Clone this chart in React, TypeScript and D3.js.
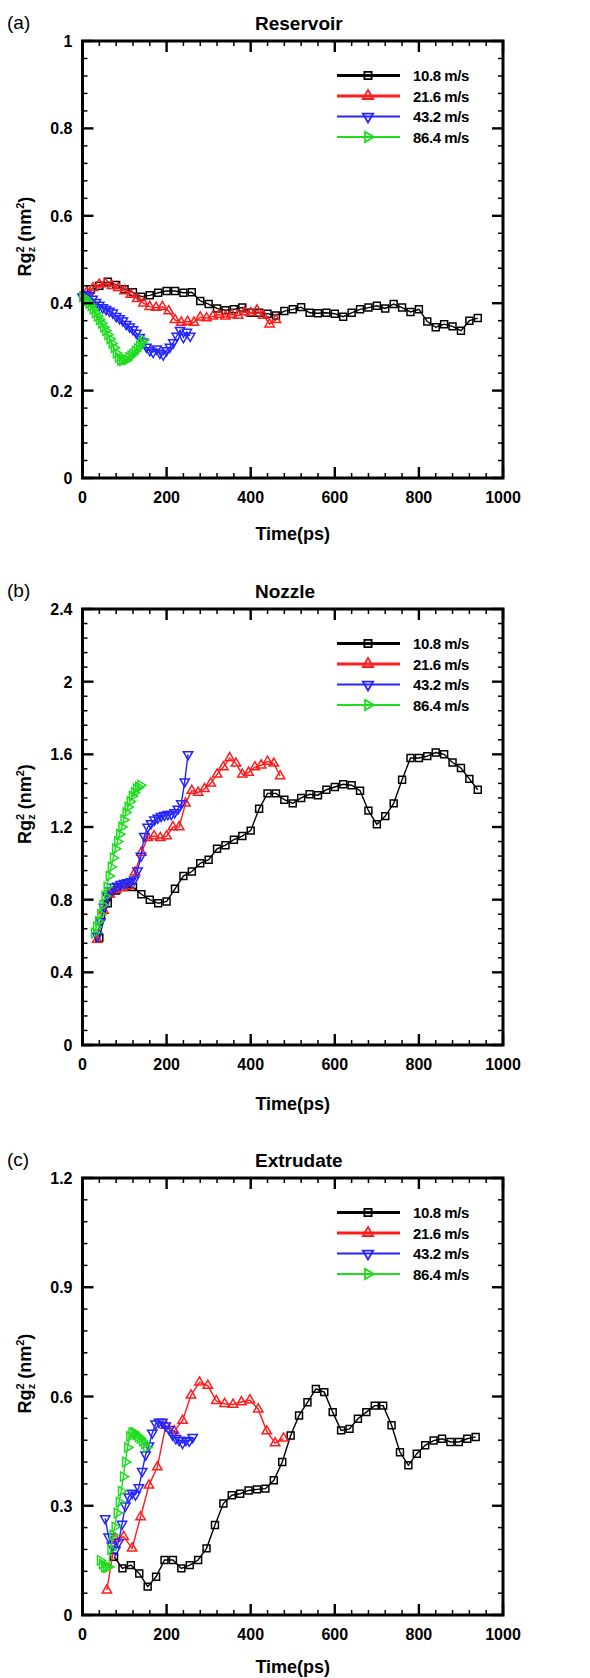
import React from 'react';
import * as d3 from 'd3';

const W = 590;
const H = 1678;
const FONT = 'Liberation Sans, Arial, Helvetica, sans-serif';

// legend / series styling
const speedLabels = ['10.8 m/s', '21.6 m/s', '43.2 m/s', '86.4 m/s'];
const colors = ['#000000', '#ff1c1c', '#2424ff', '#1edc1e'];
const legendLineWidths = [2.8, 2.8, 1.8, 2.2];

const xTicks = [0, 200, 400, 600, 800, 1000];

// ---- (a) Reservoir ----
const resT108 = [20, 40, 60, 80, 100, 120, 140, 160, 180, 200, 220, 240, 260, 280, 300, 320, 340, 360, 380, 400, 420, 440, 460, 480, 500, 520, 540, 560, 580, 600, 620, 640, 660, 680, 700, 720, 740, 760, 780, 800, 820, 840, 860, 880, 900, 920, 940];
const resV108 = [0.432, 0.44, 0.449, 0.442, 0.432, 0.425, 0.415, 0.418, 0.424, 0.428, 0.428, 0.424, 0.425, 0.405, 0.398, 0.388, 0.384, 0.386, 0.39, 0.378, 0.378, 0.376, 0.372, 0.382, 0.386, 0.391, 0.378, 0.377, 0.378, 0.376, 0.369, 0.378, 0.386, 0.39, 0.394, 0.388, 0.398, 0.39, 0.38, 0.386, 0.358, 0.345, 0.352, 0.347, 0.337, 0.36, 0.366];
const resT216 = [10, 25, 40, 55, 70, 85, 100, 115, 130, 145, 160, 175, 190, 205, 220, 235, 250, 265, 280, 295, 310, 325, 340, 355, 370, 385, 400, 415, 430, 445, 460];
const resV216 = [0.425, 0.435, 0.443, 0.445, 0.44, 0.435, 0.428, 0.42, 0.41, 0.4, 0.392, 0.39, 0.392, 0.382, 0.362, 0.356, 0.358, 0.356, 0.368, 0.366, 0.37, 0.374, 0.37, 0.374, 0.372, 0.38, 0.378, 0.384, 0.372, 0.352, 0.362];
const resT432 = [0, 8, 16, 24, 32, 40, 48, 56, 64, 72, 80, 88, 96, 104, 112, 120, 128, 136, 144, 152, 160, 168, 176, 184, 192, 200, 208, 216, 224, 232, 240, 248, 256];
const resV432 = [0.415, 0.42, 0.418, 0.41, 0.402, 0.396, 0.39, 0.386, 0.382, 0.378, 0.37, 0.365, 0.36, 0.352, 0.346, 0.34, 0.332, 0.322, 0.312, 0.3, 0.292, 0.288, 0.296, 0.286, 0.282, 0.292, 0.3, 0.31, 0.325, 0.338, 0.322, 0.334, 0.325];
const resT864 = [0, 5, 10, 15, 20, 25, 30, 35, 40, 45, 50, 55, 60, 65, 70, 75, 80, 85, 90, 95, 100, 105, 110, 115, 120, 125, 130, 135, 140, 145];
const resV864 = [0.415, 0.412, 0.405, 0.4, 0.394, 0.386, 0.378, 0.37, 0.362, 0.354, 0.345, 0.337, 0.328, 0.318, 0.308, 0.298, 0.286, 0.276, 0.27, 0.268, 0.272, 0.27, 0.276, 0.28, 0.284, 0.29, 0.296, 0.302, 0.31, 0.316];

// ---- (b) Nozzle ----
const nozT108 = [40, 60, 80, 100, 120, 140, 160, 180, 200, 220, 240, 260, 280, 300, 320, 340, 360, 380, 400, 420, 440, 460, 480, 500, 520, 540, 560, 580, 600, 620, 640, 660, 680, 700, 720, 740, 760, 780, 800, 820, 840, 860, 880, 900, 920, 940];
const nozV108 = [0.59, 0.78, 0.85, 0.87, 0.87, 0.83, 0.8, 0.78, 0.79, 0.86, 0.93, 0.955, 1.0, 1.02, 1.08, 1.1, 1.13, 1.15, 1.18, 1.3, 1.385, 1.385, 1.35, 1.33, 1.36, 1.38, 1.375, 1.405, 1.42, 1.435, 1.43, 1.4, 1.29, 1.215, 1.26, 1.33, 1.46, 1.58, 1.58, 1.59, 1.61, 1.6, 1.555, 1.525, 1.465, 1.405];
const nozT216 = [35, 50, 65, 80, 95, 110, 125, 140, 155, 170, 185, 200, 215, 230, 245, 260, 275, 290, 305, 320, 335, 350, 365, 380, 395, 410, 425, 440, 455, 470];
const nozV216 = [0.58, 0.74, 0.83, 0.855, 0.865, 0.875, 0.95, 1.06, 1.14, 1.15, 1.14, 1.15, 1.2, 1.2, 1.33, 1.4, 1.39, 1.41, 1.44, 1.49, 1.53, 1.58, 1.55, 1.49, 1.5, 1.53, 1.54, 1.56, 1.55, 1.48];
const nozT432 = [35, 43, 51, 59, 67, 75, 83, 91, 99, 107, 115, 123, 131, 139, 147, 155, 163, 171, 179, 187, 195, 203, 211, 219, 227, 235, 243, 251];
const nozV432 = [0.6, 0.68, 0.76, 0.82, 0.85, 0.87, 0.875, 0.885, 0.89, 0.895, 0.9, 0.91, 0.96, 1.04, 1.15, 1.2, 1.22, 1.24, 1.25, 1.26, 1.265, 1.27, 1.27, 1.28, 1.3, 1.33, 1.45, 1.6];
const nozT864 = [28, 33, 38, 43, 48, 53, 58, 63, 68, 73, 78, 83, 88, 93, 98, 103, 108, 113, 118, 123, 128, 133, 138];
const nozV864 = [0.616, 0.65, 0.68, 0.72, 0.77, 0.82, 0.87, 0.93, 0.98, 1.03, 1.08, 1.12, 1.16, 1.2, 1.24, 1.28, 1.31, 1.34, 1.37, 1.39, 1.41, 1.42, 1.43];

// ---- (c) Extrudate ----
const extT108 = [75, 95, 115, 135, 155, 175, 195, 215, 235, 255, 275, 295, 315, 335, 355, 375, 395, 415, 435, 455, 475, 495, 515, 535, 555, 575, 595, 615, 635, 655, 675, 695, 715, 735, 755, 775, 795, 815, 835, 855, 875, 895, 915, 935];
const extV108 = [0.16, 0.128, 0.137, 0.114, 0.078, 0.105, 0.151, 0.151, 0.128, 0.137, 0.151, 0.183, 0.247, 0.306, 0.329, 0.333, 0.342, 0.345, 0.347, 0.37, 0.42, 0.493, 0.548, 0.584, 0.621, 0.612, 0.557, 0.507, 0.511, 0.539, 0.557, 0.575, 0.575, 0.521, 0.447, 0.411, 0.443, 0.466, 0.479, 0.484, 0.475, 0.475, 0.484, 0.489];
const extT216 = [58, 78, 98, 118, 138, 158, 178, 198, 218, 238, 258, 278, 298, 318, 338, 358, 378, 398, 418, 438, 458, 478];
const extV216 = [0.068, 0.21, 0.215, 0.183, 0.269, 0.356, 0.406, 0.52, 0.505, 0.534, 0.603, 0.639, 0.63, 0.588, 0.58, 0.578, 0.585, 0.59, 0.565, 0.505, 0.472, 0.485];
const extT432 = [54, 62, 70, 78, 86, 94, 102, 110, 118, 126, 134, 142, 150, 158, 166, 174, 182, 190, 198, 206, 214, 222, 230, 238, 246, 254, 262];
const extV432 = [0.265, 0.215, 0.19, 0.178, 0.2, 0.25, 0.3, 0.325, 0.335, 0.33, 0.35, 0.395, 0.44, 0.465, 0.5, 0.525, 0.53, 0.53, 0.52, 0.51, 0.495, 0.485, 0.48, 0.472, 0.48, 0.478, 0.488];
const extT864 = [42, 47, 52, 57, 62, 67, 72, 77, 82, 87, 92, 97, 102, 107, 112, 117, 122, 127, 132, 137, 142, 147, 152];
const extV864 = [0.15, 0.14, 0.132, 0.13, 0.132, 0.18, 0.22, 0.242, 0.28, 0.31, 0.34, 0.38, 0.42, 0.46, 0.49, 0.5, 0.502, 0.495, 0.49, 0.485, 0.478, 0.47, 0.46];

const resYTicks = [0, 0.2, 0.4, 0.6, 0.8, 1];
const nozYTicks = [0, 0.4, 0.8, 1.2, 1.6, 2, 2.4];
const extYTicks = [0, 0.3, 0.6, 0.9, 1.2];

const panels = [
  {
    tag: '(a)', title: 'Reservoir', top: 41, bottom: 478, yMax: 1, yTicks: resYTicks, yMinor: 0.04, xLabelDy: 62,
    series: [[resT108, resV108], [resT216, resV216], [resT432, resV432], [resT864, resV864]],
  },
  {
    tag: '(b)', title: 'Nozzle', top: 609, bottom: 1045, yMax: 2.4, yTicks: nozYTicks, yMinor: 0.08, xLabelDy: 65,
    series: [[nozT108, nozV108], [nozT216, nozV216], [nozT432, nozV432], [nozT864, nozV864]],
  },
  {
    tag: '(c)', title: 'Extrudate', top: 1178, bottom: 1615, yMax: 1.2, yTicks: extYTicks, yMinor: 0.06, xLabelDy: 58,
    series: [[extT108, extV108], [extT216, extV216], [extT432, extV432], [extT864, extV864]],
  },
];

const LEFT = 82.5;
const RIGHT = 503;

// marker shapes: square, up, down, right triangles
function marker(i: number, big = false) {
  if (i === 0) return { d: d3.symbol(d3.symbolSquare, big ? 52 : 48)() as string, rot: 0 };
  const d = d3.symbol(d3.symbolTriangle, big ? 46 : 38)() as string;
  return { d, rot: i === 1 ? 0 : i === 2 ? 180 : 90 };
}

function Panel({ p }: { p: (typeof panels)[number] }) {
  const x = d3.scaleLinear().domain([0, 1000]).range([LEFT, RIGHT]);
  const y = d3.scaleLinear().domain([0, p.yMax]).range([p.bottom, p.top]);
  const line = d3.line<[number, number]>().x(d => x(d[0])).y(d => y(d[1]));

  const xMinor = d3.range(0, 1000.001, 40).filter(v => v % 200 !== 0);
  const yMinor = d3.range(0, p.yMax + 1e-6, p.yMinor).filter(
    v => !p.yTicks.some(t => Math.abs(t - v) < 1e-6)
  );
  const midY = (p.top + p.bottom) / 2;
  const fmt = d3.format('');

  return (
    <g>
      <text x={7} y={p.top - 12} fontSize={19} fontFamily={FONT}>{p.tag}</text>
      <text x={255} y={p.top - 11} fontSize={19} fontWeight="bold" fontFamily={FONT}>{p.title}</text>

      {p.series.map(([ts, vs], i) => {
        const pts = ts.map((t, k) => [t, vs[k]] as [number, number]);
        const m = marker(i);
        return (
          <g key={i}>
            <path d={line(pts) as string} fill="none" stroke={colors[i]} strokeWidth={1.4} />
            {pts.map((q, k) => (
              <path key={k} d={m.d} fill="none" stroke={colors[i]} strokeWidth={1.5}
                transform={`translate(${x(q[0])},${y(q[1])}) rotate(${m.rot})`} />
            ))}
          </g>
        );
      })}

      {/* ticks */}
      {xTicks.map(t => (
        <g key={'xm' + t} stroke="#000" strokeWidth={2.4}>
          <line x1={x(t)} x2={x(t)} y1={p.bottom} y2={p.bottom - 11} />
          <line x1={x(t)} x2={x(t)} y1={p.top} y2={p.top + 11} />
        </g>
      ))}
      {xMinor.map(t => (
        <g key={'xn' + t} stroke="#000" strokeWidth={1.5}>
          <line x1={x(t)} x2={x(t)} y1={p.bottom} y2={p.bottom - 5} />
          <line x1={x(t)} x2={x(t)} y1={p.top} y2={p.top + 5} />
        </g>
      ))}
      {p.yTicks.map(t => (
        <g key={'ym' + t} stroke="#000" strokeWidth={2.4}>
          <line x1={LEFT} x2={LEFT + 11} y1={y(t)} y2={y(t)} />
          <line x1={RIGHT} x2={RIGHT - 11} y1={y(t)} y2={y(t)} />
        </g>
      ))}
      {yMinor.map(t => (
        <g key={'yn' + t} stroke="#000" strokeWidth={1.5}>
          <line x1={LEFT} x2={LEFT + 5} y1={y(t)} y2={y(t)} />
          <line x1={RIGHT} x2={RIGHT - 5} y1={y(t)} y2={y(t)} />
        </g>
      ))}
      <rect x={LEFT} y={p.top} width={RIGHT - LEFT} height={p.bottom - p.top} fill="none" stroke="#000" strokeWidth={3} />

      {/* tick labels */}
      {xTicks.map(t => (
        <text key={'xl' + t} x={x(t)} y={p.bottom + 25} textAnchor="middle" fontSize={16} fontWeight="bold" fontFamily={FONT}>{t}</text>
      ))}
      {p.yTicks.map(t => (
        <text key={'yl' + t} x={LEFT - 10} y={y(t) + 6} textAnchor="end" fontSize={16} fontWeight="bold" fontFamily={FONT}>{fmt(t)}</text>
      ))}

      <text x={(LEFT + RIGHT) / 2} y={p.bottom + p.xLabelDy} textAnchor="middle" fontSize={18} fontWeight="bold" fontFamily={FONT}>Time(ps)</text>
      <text transform={`translate(31,${midY - 23}) rotate(-90)`} textAnchor="middle" fontSize={18} fontWeight="bold" fontFamily={FONT}>
        <tspan>Rg</tspan>
        <tspan dy={-7} fontSize={11}>2</tspan>
        <tspan dx={-6} dy={11} fontSize={11}>z</tspan>
        <tspan dy={-4}> (nm</tspan>
        <tspan dy={-7} fontSize={11}>2</tspan>
        <tspan dy={7}>)</tspan>
      </text>

      {/* legend */}
      {speedLabels.map((lab, i) => {
        const ry = p.top + 34.5 + i * 20.5;
        const m = marker(i, true);
        return (
          <g key={'lg' + i}>
            <line x1={337} x2={400} y1={ry} y2={ry} stroke={colors[i]} strokeWidth={legendLineWidths[i]} />
            <path d={m.d} fill="none" stroke={colors[i]} strokeWidth={1.8} transform={`translate(368,${ry}) rotate(${m.rot})`} />
            <text x={413} y={ry + 5.5} fontSize={15} fontWeight="bold" letterSpacing={-0.4} fontFamily={FONT}>{lab}</text>
          </g>
        );
      })}
    </g>
  );
}

export default function App() {
  return (
    <svg width={W} height={H} viewBox={`0 0 ${W} ${H}`}
      style={{ position: 'absolute', left: 0, top: 0, background: '#fff' }}>
      <rect width={W} height={H} fill="#fff" />
      {panels.map(p => <Panel key={p.tag} p={p} />)}
    </svg>
  );
}
